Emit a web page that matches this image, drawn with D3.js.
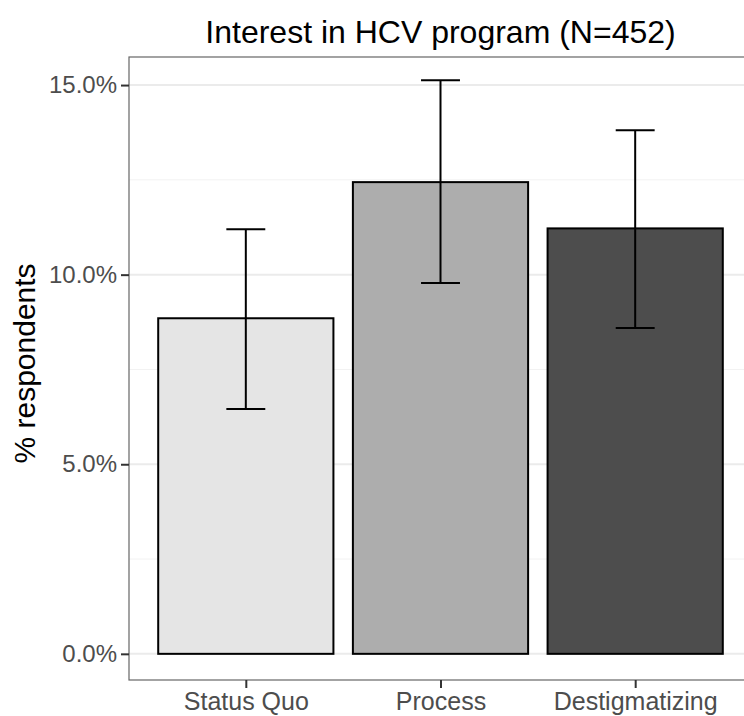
<!DOCTYPE html>
<html>
<head>
<meta charset="utf-8">
<script src="https://cdn.jsdelivr.net/npm/d3@7"></script>
<style>
  body { margin: 0; background: #fff; }
  svg { display: block; font-family: "Liberation Sans", Arial, sans-serif; }
</style>
</head>
<body>
<div id="chart"></div>
<script>
// data (percent of respondents)
var categories = ["Status Quo", "Process", "Destigmatizing"];
var values = [8.85, 12.44, 11.22];
var lower = [6.46, 9.78, 8.59];
var upper = [11.20, 15.13, 13.81];
var fills = ["#e5e5e5", "#adadad", "#4d4d4d"];
var majorTicks = [0, 5, 10, 15];
var minorTicks = [2.5, 7.5, 12.5];

var W = 744, H = 716;
var margin = { left: 129, right: -8, top: 57, bottom: 36 };
var width = W - margin.left - margin.right;
var height = H - margin.top - margin.bottom;

var svg = d3.select("#chart").append("svg")
  .attr("width", W)
  .attr("height", H);

var g = svg.append("g")
  .attr("transform", "translate(" + margin.left + "," + margin.top + ")");

// x: discrete positions 1..n, with ggplot-style 0.6 expansion
var x = d3.scaleLinear()
  .domain([0.4, categories.length + 0.6])
  .range([0, width]);

var y = d3.scaleLinear()
  .domain([-0.69, 15.74])
  .range([height, 0]);

// grid
g.selectAll(".minor").data(minorTicks).enter().append("line")
  .attr("x1", 0).attr("x2", width)
  .attr("y1", d => y(d)).attr("y2", d => y(d))
  .attr("stroke", "#f2f2f2").attr("stroke-width", 1);

g.selectAll(".major").data(majorTicks).enter().append("line")
  .attr("x1", 0).attr("x2", width)
  .attr("y1", d => y(d)).attr("y2", d => y(d))
  .attr("stroke", "#ebebeb").attr("stroke-width", 2);

// bars
var bw = 0.9;
g.selectAll(".bar").data(values).enter().append("rect")
  .attr("x", (d, i) => x(i + 1 - bw / 2))
  .attr("width", x(1 + bw / 2) - x(1 - bw / 2))
  .attr("y", d => y(d))
  .attr("height", d => y(0) - y(d))
  .attr("fill", (d, i) => fills[i])
  .attr("stroke", "#000")
  .attr("stroke-width", 2);

// error bars
var ew = 0.2;
var eb = g.selectAll(".err").data(categories).enter().append("g");
eb.append("line")
  .attr("x1", (d, i) => x(i + 1)).attr("x2", (d, i) => x(i + 1))
  .attr("y1", (d, i) => y(lower[i])).attr("y2", (d, i) => y(upper[i]));
eb.append("line")
  .attr("x1", (d, i) => x(i + 1 - ew / 2)).attr("x2", (d, i) => x(i + 1 + ew / 2))
  .attr("y1", (d, i) => y(upper[i])).attr("y2", (d, i) => y(upper[i]));
eb.append("line")
  .attr("x1", (d, i) => x(i + 1 - ew / 2)).attr("x2", (d, i) => x(i + 1 + ew / 2))
  .attr("y1", (d, i) => y(lower[i])).attr("y2", (d, i) => y(lower[i]));
eb.selectAll("line").attr("stroke", "#000").attr("stroke-width", 2);

// panel border
g.append("rect")
  .attr("x", 0).attr("y", 0)
  .attr("width", width).attr("height", height)
  .attr("fill", "none")
  .attr("stroke", "#666")
  .attr("stroke-width", 1.2);

// y axis
var yAxis = g.append("g")
  .call(d3.axisLeft(y).tickValues(majorTicks)
    .tickFormat(d => d.toFixed(1) + "%")
    .tickSize(8).tickPadding(4));
yAxis.select(".domain").remove();
yAxis.selectAll(".tick line").attr("stroke", "#333").attr("stroke-width", 2);
yAxis.selectAll(".tick text")
  .attr("fill", "#4d4d4d").attr("font-size", "24px")
  .attr("font-family", "Liberation Sans, Arial, sans-serif");

// x axis
var xAxis = g.append("g")
  .attr("transform", "translate(0," + height + ")")
  .call(d3.axisBottom(x).tickValues([1, 2, 3])
    .tickFormat(d => categories[d - 1])
    .tickSize(8).tickPadding(4));
xAxis.select(".domain").remove();
xAxis.selectAll(".tick line").attr("stroke", "#333").attr("stroke-width", 2);
xAxis.selectAll(".tick text")
  .attr("fill", "#4d4d4d").attr("font-size", "25px")
  .attr("font-family", "Liberation Sans, Arial, sans-serif");

// title
svg.append("text")
  .attr("x", margin.left + width / 2)
  .attr("y", 43)
  .attr("text-anchor", "middle")
  .attr("font-size", "32px")
  .attr("fill", "#000")
  .text("Interest in HCV program (N=452)");

// y label
svg.append("text")
  .attr("transform", "translate(35," + (margin.top + y(7.5) - 6) + ") rotate(-90)")
  .attr("text-anchor", "middle")
  .attr("font-size", "30px")
  .attr("fill", "#000")
  .text("% respondents");
</script>
</body>
</html>
